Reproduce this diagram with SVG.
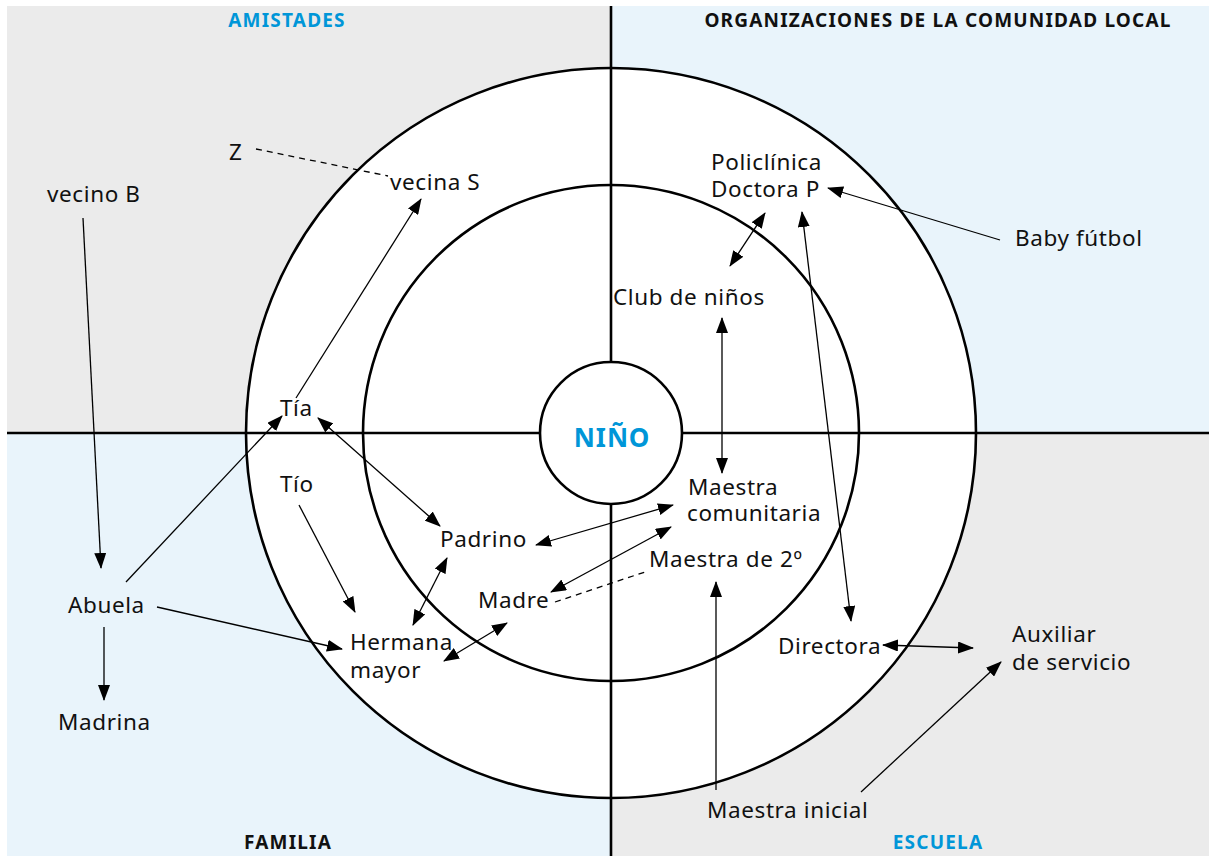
<svg xmlns="http://www.w3.org/2000/svg" width="1210" height="857" viewBox="0 0 1210 857">
<defs>
<marker id="ah" viewBox="0 0 16 12" refX="15" refY="6" markerWidth="16" markerHeight="12" markerUnits="userSpaceOnUse" orient="auto-start-reverse">
<path d="M0,0 L16,6 L0,12 z" fill="#000"/>
</marker>
<style>
.lbl{font-family:"Noto Sans","DejaVu Sans",sans-serif;font-size:22.5px;fill:#111;letter-spacing:0.6px}
.hd{font-family:"Noto Sans","DejaVu Sans",sans-serif;font-size:19px;font-weight:bold;letter-spacing:1.2px}
.ring{fill:#fff;stroke:#000;stroke-width:2.6}
.ax{stroke:#000;stroke-width:2.6}
.c{stroke:#000;stroke-width:1.3;fill:none}
.a{marker-end:url(#ah)}
.b{marker-start:url(#ah);marker-end:url(#ah)}
.d{stroke-dasharray:6,5}
</style>
</defs>
<g id="background">
<rect x="7" y="6" width="604" height="427" fill="#ebebeb"/>
<rect x="611" y="6" width="598" height="427" fill="#e9f4fb"/>
<rect x="7" y="433" width="604" height="423" fill="#e9f4fb"/>
<rect x="611" y="433" width="598" height="423" fill="#ebebeb"/>
</g>
<g id="rings">
<circle class="ring" cx="611" cy="433" r="365"/>
<circle class="ring" cx="611" cy="433" r="248"/>
<line class="ax" x1="7" y1="433" x2="1209" y2="433"/>
<line class="ax" x1="611" y1="6" x2="611" y2="856"/>
</g>
<g id="nino">
<circle class="ring" cx="611" cy="433" r="71"/>
<text x="612" y="447" text-anchor="middle" font-family="'Noto Sans','DejaVu Sans',sans-serif" font-size="26" font-weight="bold" fill="#0096d8" letter-spacing="1">NIÑO</text>
</g>
<g id="headers">
<text class="hd" x="287" y="27" text-anchor="middle" fill="#0096d8">AMISTADES</text>
<text class="hd" x="938" y="27" text-anchor="middle" fill="#111">ORGANIZACIONES DE LA COMUNIDAD LOCAL</text>
<text class="hd" x="288" y="849" text-anchor="middle" fill="#111">FAMILIA</text>
<text class="hd" x="938" y="849" text-anchor="middle" fill="#0096d8">ESCUELA</text>
</g>
<g id="connectors">
<line class="c d" x1="256" y1="149" x2="388" y2="176"/>
<line class="c a" x1="83" y1="218" x2="101" y2="568"/>
<line class="c a" x1="126" y1="582" x2="282" y2="416"/>
<line class="c a" x1="296" y1="398" x2="421" y2="199"/>
<line class="c b" x1="318" y1="418" x2="440" y2="526"/>
<line class="c a" x1="299" y1="505" x2="355" y2="612"/>
<line class="c a" x1="157" y1="607" x2="342" y2="649"/>
<line class="c a" x1="104" y1="627" x2="104" y2="700"/>
<line class="c b" x1="413" y1="625" x2="447" y2="558"/>
<line class="c b" x1="444" y1="661" x2="507" y2="623"/>
<line class="c b" x1="536" y1="545" x2="673" y2="505"/>
<line class="c b" x1="551" y1="592" x2="671" y2="527"/>
<line class="c d" x1="555" y1="602" x2="645" y2="572"/>
<line class="c b" x1="722" y1="318" x2="722" y2="473"/>
<line class="c b" x1="765" y1="213" x2="730" y2="266"/>
<line class="c a" x1="1000" y1="240" x2="828" y2="188"/>
<line class="c b" x1="802" y1="212" x2="851" y2="621"/>
<line class="c b" x1="883" y1="645" x2="973" y2="648"/>
<line class="c a" x1="716" y1="790" x2="716" y2="582"/>
<line class="c a" x1="861" y1="792" x2="1001" y2="662"/>
</g>
<g id="n-z"><text class="lbl" x="229" y="160">Z</text></g>
<g id="n-vecinaS"><text class="lbl" x="390" y="190">vecina S</text></g>
<g id="n-vecinoB"><text class="lbl" x="47" y="202">vecino B</text></g>
<g id="n-policlinica"><text class="lbl" x="711" y="170">Policlínica</text><text class="lbl" x="711" y="197">Doctora P</text></g>
<g id="n-baby"><text class="lbl" x="1015" y="246">Baby fútbol</text></g>
<g id="n-club"><text class="lbl" x="613" y="305">Club de niños</text></g>
<g id="n-tia"><text class="lbl" x="280" y="416">Tía</text></g>
<g id="n-tio"><text class="lbl" x="280" y="492">Tío</text></g>
<g id="n-maestraCom"><text class="lbl" x="688" y="495">Maestra</text><text class="lbl" x="687" y="521">comunitaria</text></g>
<g id="n-padrino"><text class="lbl" x="440" y="547">Padrino</text></g>
<g id="n-maestra2"><text class="lbl" x="649" y="567">Maestra de 2º</text></g>
<g id="n-abuela"><text class="lbl" x="68" y="613">Abuela</text></g>
<g id="n-madre"><text class="lbl" x="478" y="608">Madre</text></g>
<g id="n-hermana"><text class="lbl" x="350" y="650">Hermana</text><text class="lbl" x="350" y="678">mayor</text></g>
<g id="n-directora"><text class="lbl" x="778" y="654">Directora</text></g>
<g id="n-auxiliar"><text class="lbl" x="1012" y="642">Auxiliar</text><text class="lbl" x="1012" y="670">de servicio</text></g>
<g id="n-madrina"><text class="lbl" x="58" y="730">Madrina</text></g>
<g id="n-maestraIni"><text class="lbl" x="707" y="818">Maestra inicial</text></g>
</svg>
